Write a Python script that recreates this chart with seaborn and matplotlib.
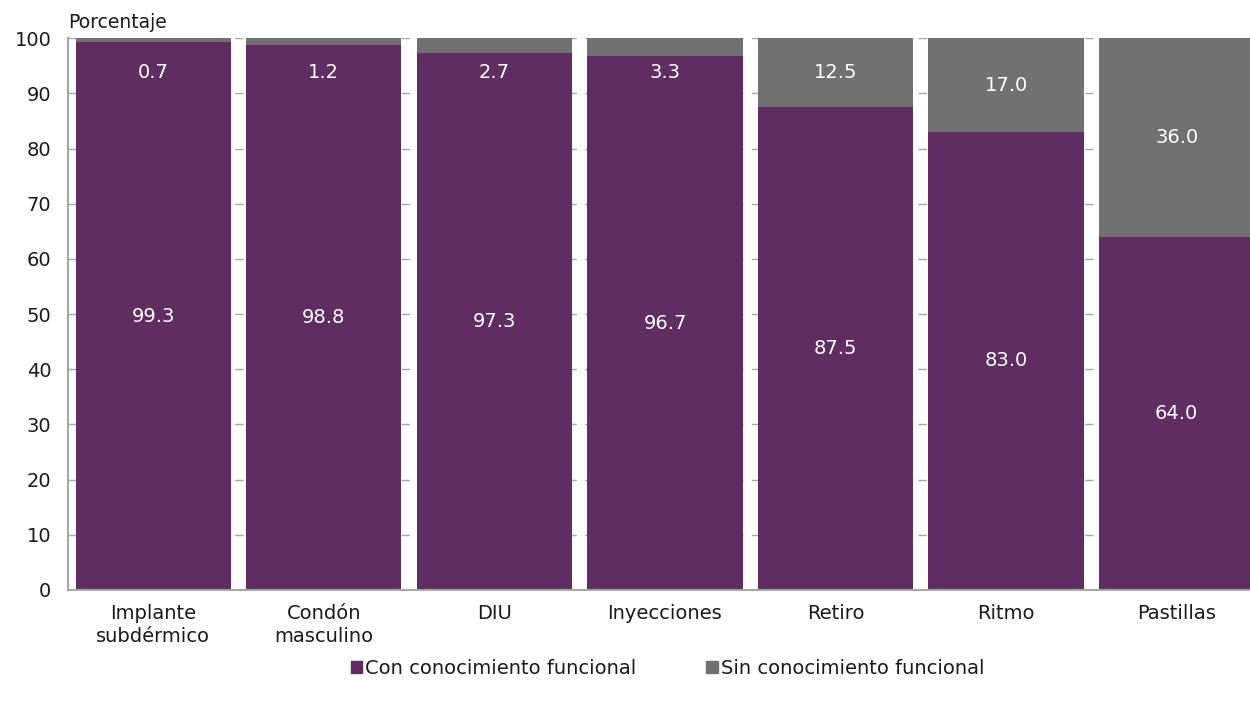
import numpy as np
import pandas as pd
import seaborn as sns
import matplotlib.pyplot as plt
from matplotlib.patches import Patch

# data
metodos = ["Implante\nsubdérmico", "Condón\nmasculino", "DIU", "Inyecciones", "Retiro", "Ritmo", "Pastillas"]
con_conocimiento = [99.3, 98.8, 97.3, 96.7, 87.5, 83.0, 64.0]
sin_conocimiento = [0.7, 1.2, 2.7, 3.3, 12.5, 17.0, 36.0]

morado = "#5F2D61"
gris = "#717171"

df = pd.DataFrame({"metodo": metodos, "con": con_conocimiento, "sin": sin_conocimiento})

sns.set_style("white")
plt.rcParams["font.family"] = ["DejaVu Sans"]

fig = plt.figure(figsize=(12.5, 7.07), dpi=100)
ax = fig.add_axes([0.0544, 0.1655, 0.9456, 0.7805])

sns.barplot(data=df, x="metodo", y="con", color=morado, saturation=1, width=0.91, ax=ax,
            linewidth=0, zorder=2)
sns.barplot(data=df, x="metodo", y="sin", color=gris, saturation=1, width=0.91, ax=ax,
            bottom=df["con"], linewidth=0, zorder=2)

# labels
for i, (c, s) in enumerate(zip(con_conocimiento, sin_conocimiento)):
    ax.text(i, c / 2, f"{c:.1f}", ha="center", va="center", color="white", fontsize=14)
    ax.text(i, min(100 - s / 2, 93.8), f"{s:.1f}", ha="center", va="center", color="white", fontsize=14)

ax.set_yticks(np.arange(0, 101, 10))
ax.set_xticks(np.arange(-0.5, 7, 1), minor=True)
ax.set_ylim(0, 100)
ax.set_xlim(-0.5, 6.43)
ax.yaxis.grid(True, color="#A6A6A6", linestyle=(0, (6, 6)), linewidth=1, zorder=0)
ax.set_axisbelow(True)
ax.set_xlabel("")
ax.set_ylabel("")
ax.tick_params(axis="y", direction="inout", length=14, color="#A6A6A6", width=1.2,
               labelsize=14, pad=5, labelcolor="#1a1a1a")
ax.tick_params(axis="x", which="major", length=0, labelsize=14, pad=10, labelcolor="#1a1a1a")
ax.tick_params(axis="x", which="minor", direction="inout", length=10, color="#A6A6A6", width=1.2)
for lab in ax.get_xticklabels():
    lab.set_linespacing(1.3)

for sp in ["top", "right"]:
    ax.spines[sp].set_visible(False)
for sp in ["left", "bottom"]:
    ax.spines[sp].set_color("#A6A6A6")
    ax.spines[sp].set_linewidth(1.5)

fig.text(0.0544, 0.955, "Porcentaje", fontsize=13.5, ha="left", va="bottom", color="#1a1a1a")

handles = [Patch(color=morado, label="Con conocimiento funcional"),
           Patch(color=gris, label="Sin conocimiento funcional")]
fig.legend(handles=handles, loc="center", bbox_to_anchor=(0.534, 0.055), ncol=2, frameon=False,
           fontsize=14, handlelength=0.6, handleheight=0.6, handletextpad=0.15, columnspacing=3.6,
           labelcolor="#1a1a1a")

plt.savefig("out.png", dpi=100)
